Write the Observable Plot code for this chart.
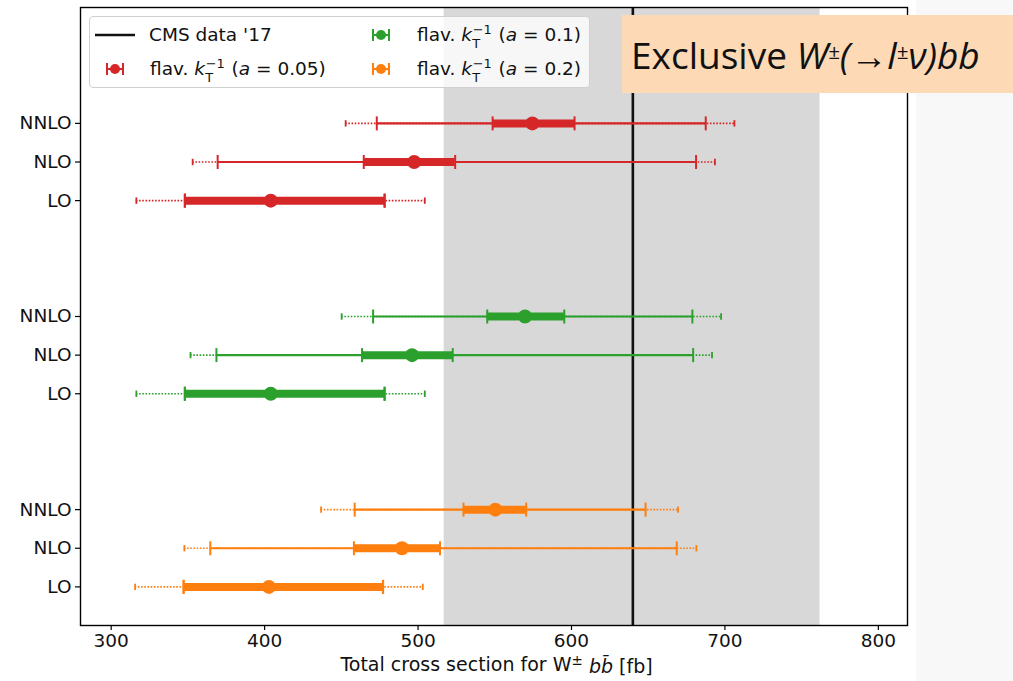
<!DOCTYPE html>
<html><head><meta charset="utf-8">
<script src="https://cdn.jsdelivr.net/npm/d3@7"></script>
<script src="https://cdn.jsdelivr.net/npm/@observablehq/plot@0.6"></script>
<style>
html,body{margin:0;padding:0;background:#fff;}
#wrap{position:relative;width:1013px;height:681px;overflow:hidden;font-family:"DejaVu Sans";}
#strip{position:absolute;left:916px;top:0;width:97px;height:681px;background:#f8f8f8;z-index:0;}
#chart{position:absolute;left:0;top:0;z-index:1;}
#legend{position:absolute;left:89px;top:16px;width:501px;height:72px;box-sizing:border-box;border:1px solid #d0d0d0;border-radius:4px;background:rgba(255,255,255,0.8);font-size:18.5px;color:#111;z-index:2;}
.item{position:absolute;display:flex;align-items:center;white-space:nowrap;height:30px;line-height:22px;}
.ss{display:inline-block;position:relative;width:1.12em;height:0;vertical-align:baseline;}
.ss .sup{position:absolute;left:0.05em;bottom:0.32em;font-size:0.7em;line-height:1;}
.ss .sub{position:absolute;left:0.02em;top:-0.24em;font-size:0.7em;line-height:1;}
#title{position:absolute;left:622px;top:15px;width:391px;height:78px;background:#fdd9b5;font-family:"Open Sans";font-size:37px;color:#111;display:flex;align-items:center;padding-left:9px;box-sizing:border-box;z-index:3;white-space:nowrap;}
.pm{font-size:0.55em;vertical-align:0.5em;}
</style>
</head><body>
<div id="wrap">
  <div id="strip"></div>
  <div id="chart"></div>
  <div id="legend"></div>
  <div id="title">Exclusive&nbsp;<i>W<span class="pm">±</span>(→l<span class="pm">±</span>ν)bb</i></div>
</div>
<script>
// ---- data ----
const orders = ["LO", "NLO", "NNLO"];
const seriesLabels = ["0.05", "0.1", "0.2"];
const seriesColors = ["#d62728", "#2ca02c", "#ff7f0e"];
const groupBase = [10, 5, 0];          // vertical slot of each series group (LO of the group)
const cmsValue = 640;
const cmsBand = [517, 762];
const xTicks = [300, 400, 500, 600, 700, 800];

// per series (a=0.05, a=0.1, a=0.2), per order (LO, NLO, NNLO)
const central   = [[404.0, 497.5, 574.5], [404.0, 496.1, 569.7], [402.8, 489.5, 550.4]];
const scaleLow  = [[348.0, 464.6, 548.6], [348.0, 463.5, 545.1], [347.2, 458.2, 529.6]];
const scaleHigh = [[478.2, 524.2, 602.0], [478.2, 522.6, 595.3], [477.2, 514.3, 570.5]];
const midLow    = [[348.0, 369.4, 473.1], [348.0, 368.6, 470.7], [347.2, 364.6, 458.7]];
const midHigh   = [[478.2, 681.2, 687.5], [478.2, 679.3, 678.8], [477.2, 668.6, 648.3]];
const totLow    = [[316.4, 353.1, 452.8], [316.4, 351.7, 450.2], [315.6, 347.7, 436.8]];
const totHigh   = [[504.4, 693.5, 706.2], [504.4, 691.6, 697.5], [503.1, 681.4, 669.4]];

const rows = [];
seriesLabels.forEach((lab, s) => orders.forEach((o, k) => rows.push({
  s, color: seriesColors[s], y: groupBase[s] + k,
  c: central[s][k], sl: scaleLow[s][k], sh: scaleHigh[s][k],
  ml: midLow[s][k], mh: midHigh[s][k], tl: totLow[s][k], th: totHigh[s][k]
})));
const ends = (lo, hi) => rows.flatMap(d => [{...d, x: d[lo]}, {...d, x: d[hi]}]);

const vline = {draw(ctx, size) { const r = Math.sqrt(size / Math.PI); ctx.moveTo(0, -r); ctx.lineTo(0, r); }};

const yTicks = groupBase.flatMap(b => orders.map((o, k) => b + k));

const chart = Plot.plot({
  width: 1013, height: 681,
  marginLeft: 80, marginRight: 106, marginTop: 7, marginBottom: 56,
  style: {fontFamily: "DejaVu Sans", fontSize: "18.5px", background: "transparent", color: "#111"},
  x: {domain: [280, 819]},
  y: {domain: [-1, 15]},
  color: {type: "identity"},
  marks: [
    Plot.rect([cmsBand], {x1: d => d[0], x2: d => d[1], y1: -1, y2: 15, fill: "#d8d8d9"}),
    Plot.ruleX([cmsValue], {x: d => d, stroke: "#111", strokeWidth: 2.6}),
    // total (dotted)
    Plot.ruleY(rows, {y: "y", x1: "tl", x2: "th", stroke: "color", strokeWidth: 1.6, strokeDasharray: "1.6,1.6"}),
    Plot.dot(ends("tl", "th"), {x: "x", y: "y", symbol: vline, r: 3.2, stroke: "color", fill: "none", strokeWidth: 1.8}),
    // mid (solid thin)
    Plot.ruleY(rows, {y: "y", x1: "ml", x2: "mh", stroke: "color", strokeWidth: 2.2}),
    Plot.dot(ends("ml", "mh"), {x: "x", y: "y", symbol: vline, r: 7, stroke: "color", fill: "none", strokeWidth: 2}),
    // scale (thick)
    Plot.ruleY(rows, {y: "y", x1: "sl", x2: "sh", stroke: "color", strokeWidth: 8}),
    Plot.dot(ends("sl", "sh"), {x: "x", y: "y", symbol: vline, r: 7, stroke: "color", fill: "none", strokeWidth: 2}),
    // central values
    Plot.dot(rows, {x: "c", y: "y", r: 7, fill: "color", stroke: "none"}),
    Plot.frame({stroke: "#000", strokeWidth: 1.4}),
    Plot.axisX({ticks: xTicks, tickSize: 5, tickPadding: 3, label: null, stroke: "#000", strokeWidth: 1.2}),
    Plot.axisY({ticks: yTicks, tickFormat: v => orders[v % 5], tickSize: 5, tickPadding: 4, label: null, stroke: "#000", strokeWidth: 1.2})
  ]
});
document.getElementById("chart").appendChild(chart);

// x-axis label with math formatting
const xr = chart.scale("x").range;
const lbl = d3.select(chart).append("text")
  .attr("x", (xr[0] + xr[1]) / 2 + 3).attr("y", 671)
  .attr("text-anchor", "middle").attr("fill", "#111")
  .style("font-family", "DejaVu Sans").style("font-size", "19px");
lbl.append("tspan").text("Total cross section for W");
lbl.append("tspan").attr("dy", "-0.45em").style("font-size", "13.5px").text("±");
lbl.append("tspan").attr("dy", "0.45em").text(" ");
lbl.append("tspan").style("font-style", "italic").text("bb\u0304");
lbl.append("tspan").text(" [fb]");

// legend
const legend = document.getElementById("legend");
function marker(color) {
  return `<svg width="20" height="16" style="display:block"><line x1="2" x2="18" y1="8" y2="8" stroke="${color}" stroke-width="2"/>` +
    `<line x1="2" x2="2" y1="2" y2="14" stroke="${color}" stroke-width="2"/><line x1="18" x2="18" y1="2" y2="14" stroke="${color}" stroke-width="2"/>` +
    `<circle cx="10" cy="8" r="5" fill="${color}"/></svg>`;
}
const kt = a => `flav.&nbsp;<i>k</i><span class="ss"><span class="sup">−1</span><span class="sub">T</span></span>&nbsp;(<i>a</i>&nbsp;=&nbsp;${a})`;
const items = [
  {left: 5, top: 3, glyph: `<svg width="40" height="6" style="display:block"><line x1="0" x2="40" y1="3" y2="3" stroke="#111" stroke-width="2.6"/></svg>`, gap: 14, html: "CMS data '17"},
  {left: 15, top: 37, glyph: marker(seriesColors[0]), gap: 25, html: kt(seriesLabels[0])},
  {left: 281, top: 3, glyph: marker(seriesColors[1]), gap: 26, html: kt(seriesLabels[1])},
  {left: 281, top: 37, glyph: marker(seriesColors[2]), gap: 26, html: kt(seriesLabels[2])}
];
items.forEach(it => {
  const d = document.createElement("div");
  d.className = "item";
  d.style.left = it.left + "px"; d.style.top = it.top + "px";
  d.innerHTML = `<span style="margin-right:${it.gap}px">${it.glyph}</span><span>${it.html}</span>`;
  legend.appendChild(d);
});
</script>
</body></html>
